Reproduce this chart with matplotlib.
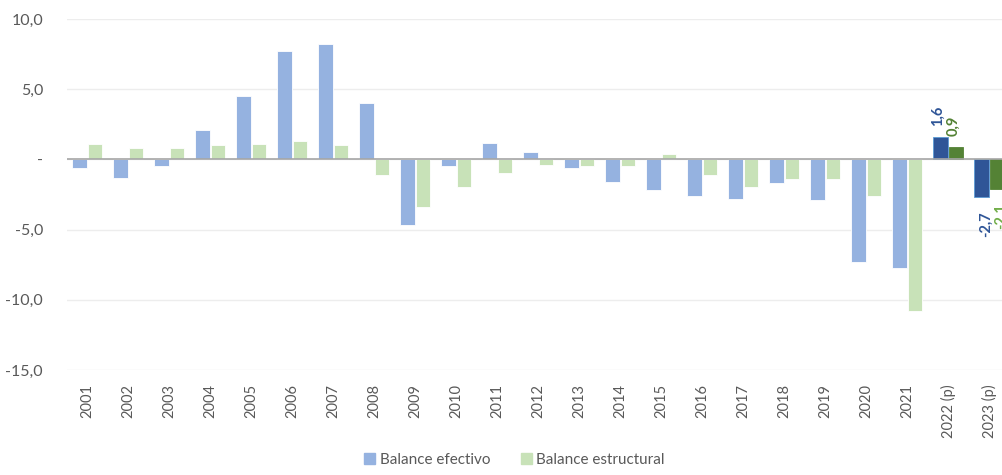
import numpy as np
import matplotlib
matplotlib.use("Agg")
import matplotlib.pyplot as plt
from matplotlib.patches import Patch

plt.rcParams['font.family'] = ['Lato', 'DejaVu Sans']

# Data
years = ['2001', '2002', '2003', '2004', '2005', '2006', '2007', '2008', '2009',
         '2010', '2011', '2012', '2013', '2014', '2015', '2016', '2017', '2018',
         '2019', '2020', '2021', '2022 (p)', '2023 (p)']
efectivo = [-0.6, -1.3, -0.5, 2.1, 4.5, 7.7, 8.2, 4.0, -4.7, -0.5, 1.2, 0.5,
            -0.6, -1.6, -2.2, -2.6, -2.8, -1.7, -2.9, -7.3, -7.7, 1.6, -2.7]
estructural = [1.1, 0.8, 0.8, 1.0, 1.1, 1.3, 1.0, -1.1, -3.4, -2.0, -1.0, -0.4,
               -0.5, -0.5, 0.4, -1.1, -2.0, -1.4, -1.4, -2.6, -10.8, 0.9, -2.1]
n_proj = 2  # last two years are projections

# colours
c_blue = '#95B2E0'
c_green = '#C8E2B8'
c_blue_dark = '#2F5597'
c_green_dark = '#548235'
c_grey = '#595959'

fig = plt.figure(figsize=(10.03, 4.75), dpi=100)
ax = fig.add_axes([66.7 / 1003, 105 / 475, 943 / 1003, 351 / 475])

x = np.arange(len(years))
w = 0.35
off = 0.19
n = len(years)
blue_cols = [c_blue] * (n - n_proj) + [c_blue_dark] * n_proj
green_cols = [c_green] * (n - n_proj) + [c_green_dark] * n_proj
blue_edges = ['white'] * (n - n_proj) + ['#5B9BD5'] * n_proj
green_edges = ['white'] * (n - n_proj) + [c_green_dark] * n_proj

ax.bar(x - off, efectivo, w, color=blue_cols, edgecolor=blue_edges, linewidth=0.6, zorder=3)
ax.bar(x + off, estructural, w, color=green_cols, edgecolor=green_edges, linewidth=0.6, zorder=3)

# value labels for projections
lbl_cols_blue = [c_blue_dark, c_blue_dark]
lbl_cols_green = [c_green_dark, '#70AD47']
for k, i in enumerate(range(n - n_proj, n)):
    for val, xi, col in [(efectivo[i], x[i] - off, lbl_cols_blue[k]),
                         (estructural[i], x[i] + off, lbl_cols_green[k])]:
        txt = f'{val:.1f}'.replace('.', ',')
        if val >= 0:
            ax.annotate(txt, (xi, val), xytext=(-2, 8), textcoords='offset points',
                        rotation=90, ha='center', va='bottom', color=col,
                        fontsize=10.5, fontweight='bold', zorder=4)
        else:
            ax.annotate(txt, (xi, val), xytext=(3, -10), textcoords='offset points',
                        rotation=90, ha='center', va='top', color=col,
                        fontsize=10.5, fontweight='bold', zorder=4)

ax.set_xlim(-0.5, n - 0.5)
ax.set_ylim(-15, 10)
ax.set_yticks([10, 5, 0, -5, -10, -15])
ax.set_yticklabels(['10,0', '5,0', '-', '-5,0', '-10,0', '-15,0'])
ax.set_xticks(x)
ax.set_xticklabels(years, rotation=90)
ax.tick_params(axis='y', length=0, pad=17, labelsize=11.5, labelcolor=c_grey)
ax.tick_params(axis='x', length=0, pad=10, labelsize=10.5, labelcolor=c_grey)

ax.grid(axis='y', color='#EDEDED', linewidth=1, zorder=0)
ax.axhline(0, color='#A6A6A6', linewidth=1.2, zorder=4)
for s in ax.spines.values():
    s.set_visible(False)

handles = [Patch(color=c_blue, label='Balance efectivo'),
           Patch(color=c_green, label='Balance estructural')]
fig.legend(handles=handles, loc='lower center', bbox_to_anchor=(0.513, -0.012), ncol=2,
           frameon=False, fontsize=11, handlelength=0.7, handleheight=0.7,
           handletextpad=0.3, columnspacing=2.0, labelcolor=c_grey)

fig.savefig('out.png', dpi=100)
